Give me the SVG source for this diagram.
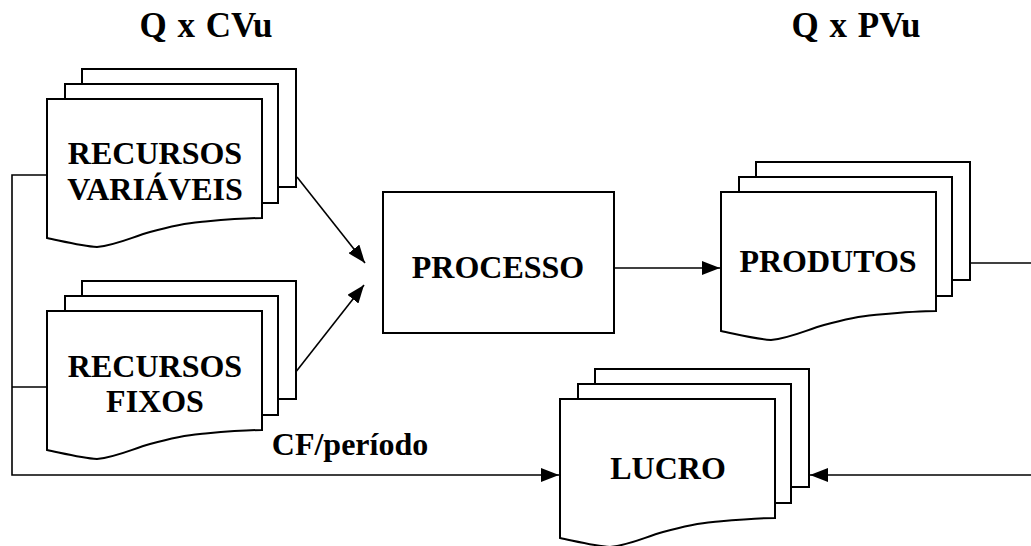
<svg xmlns="http://www.w3.org/2000/svg" width="1031" height="546" viewBox="0 0 1031 546">
  <style>
    .sheet { fill: #ffffff; stroke: #000000; stroke-width: 2; stroke-linejoin: miter; }
    .lbl { font-family: "Liberation Serif", "Times New Roman", serif; font-weight: bold; font-size: 32px; fill: #000000; text-anchor: middle; }
    .title { font-size: 35px; word-spacing: 2px; }
    .wire { fill: none; stroke: #000000; stroke-width: 1.6; }
  </style>
  <defs>
    <marker id="tip" viewBox="0 0 18 14" refX="18" refY="7" markerWidth="18" markerHeight="14" markerUnits="userSpaceOnUse" orient="auto">
      <path d="M0,0 L18,7 L0,14 Z" fill="#000000"/>
    </marker>
    <!-- stacked multi-document sheet, origin at top-left of the front page -->
    <g id="stack">
      <rect class="sheet" x="35" y="-30" width="214" height="118"/>
      <rect class="sheet" x="18" y="-15" width="213" height="119"/>
      <path class="sheet" d="M0,0 H215 V119 C195,119 175,121 153,123 C140,124 125,127 103,133 C85,138 70,146 50,148 C35,147 15,142 0,139 Z"/>
    </g>
  </defs>

  <rect width="1031" height="546" fill="#ffffff"/>

  <!-- headings -->
  <text class="lbl title" x="206" y="37">Q x CVu</text>
  <text class="lbl title" x="856" y="37">Q x PVu</text>

  <!-- connectors -->
  <g id="connectors">
    <path class="wire" d="M297,177 L365,263" marker-end="url(#tip)"/>
    <path class="wire" d="M295,373 L364,285" marker-end="url(#tip)"/>
    <path class="wire" d="M614,268 L720,268" marker-end="url(#tip)"/>
    <path class="wire" d="M47,175 H12 V475 H559" marker-end="url(#tip)"/>
    <path class="wire" d="M47,387 H12"/>
    <path class="wire" d="M968,263 H1031"/>
    <path class="wire" d="M1031,475 H810" marker-end="url(#tip)"/>
    <text class="lbl" x="350" y="455">CF/período</text>
  </g>

  <g id="recursos-variaveis" transform="translate(47,99)">
    <use href="#stack"/>
    <text class="lbl" x="108" y="65">RECURSOS</text>
    <text class="lbl" x="108" y="101">VARIÁVEIS</text>
  </g>

  <g id="recursos-fixos" transform="translate(47,311)">
    <use href="#stack"/>
    <text class="lbl" x="108" y="66">RECURSOS</text>
    <text class="lbl" x="108" y="101">FIXOS</text>
  </g>

  <g id="processo">
    <rect class="sheet" x="383" y="192" width="231" height="141"/>
    <text class="lbl" x="498" y="278">PROCESSO</text>
  </g>

  <g id="produtos" transform="translate(721,192)">
    <use href="#stack"/>
    <text class="lbl" x="107" y="80">PRODUTOS</text>
  </g>

  <g id="lucro" transform="translate(560,399)">
    <use href="#stack"/>
    <text class="lbl" x="108" y="80">LUCRO</text>
  </g>
</svg>
